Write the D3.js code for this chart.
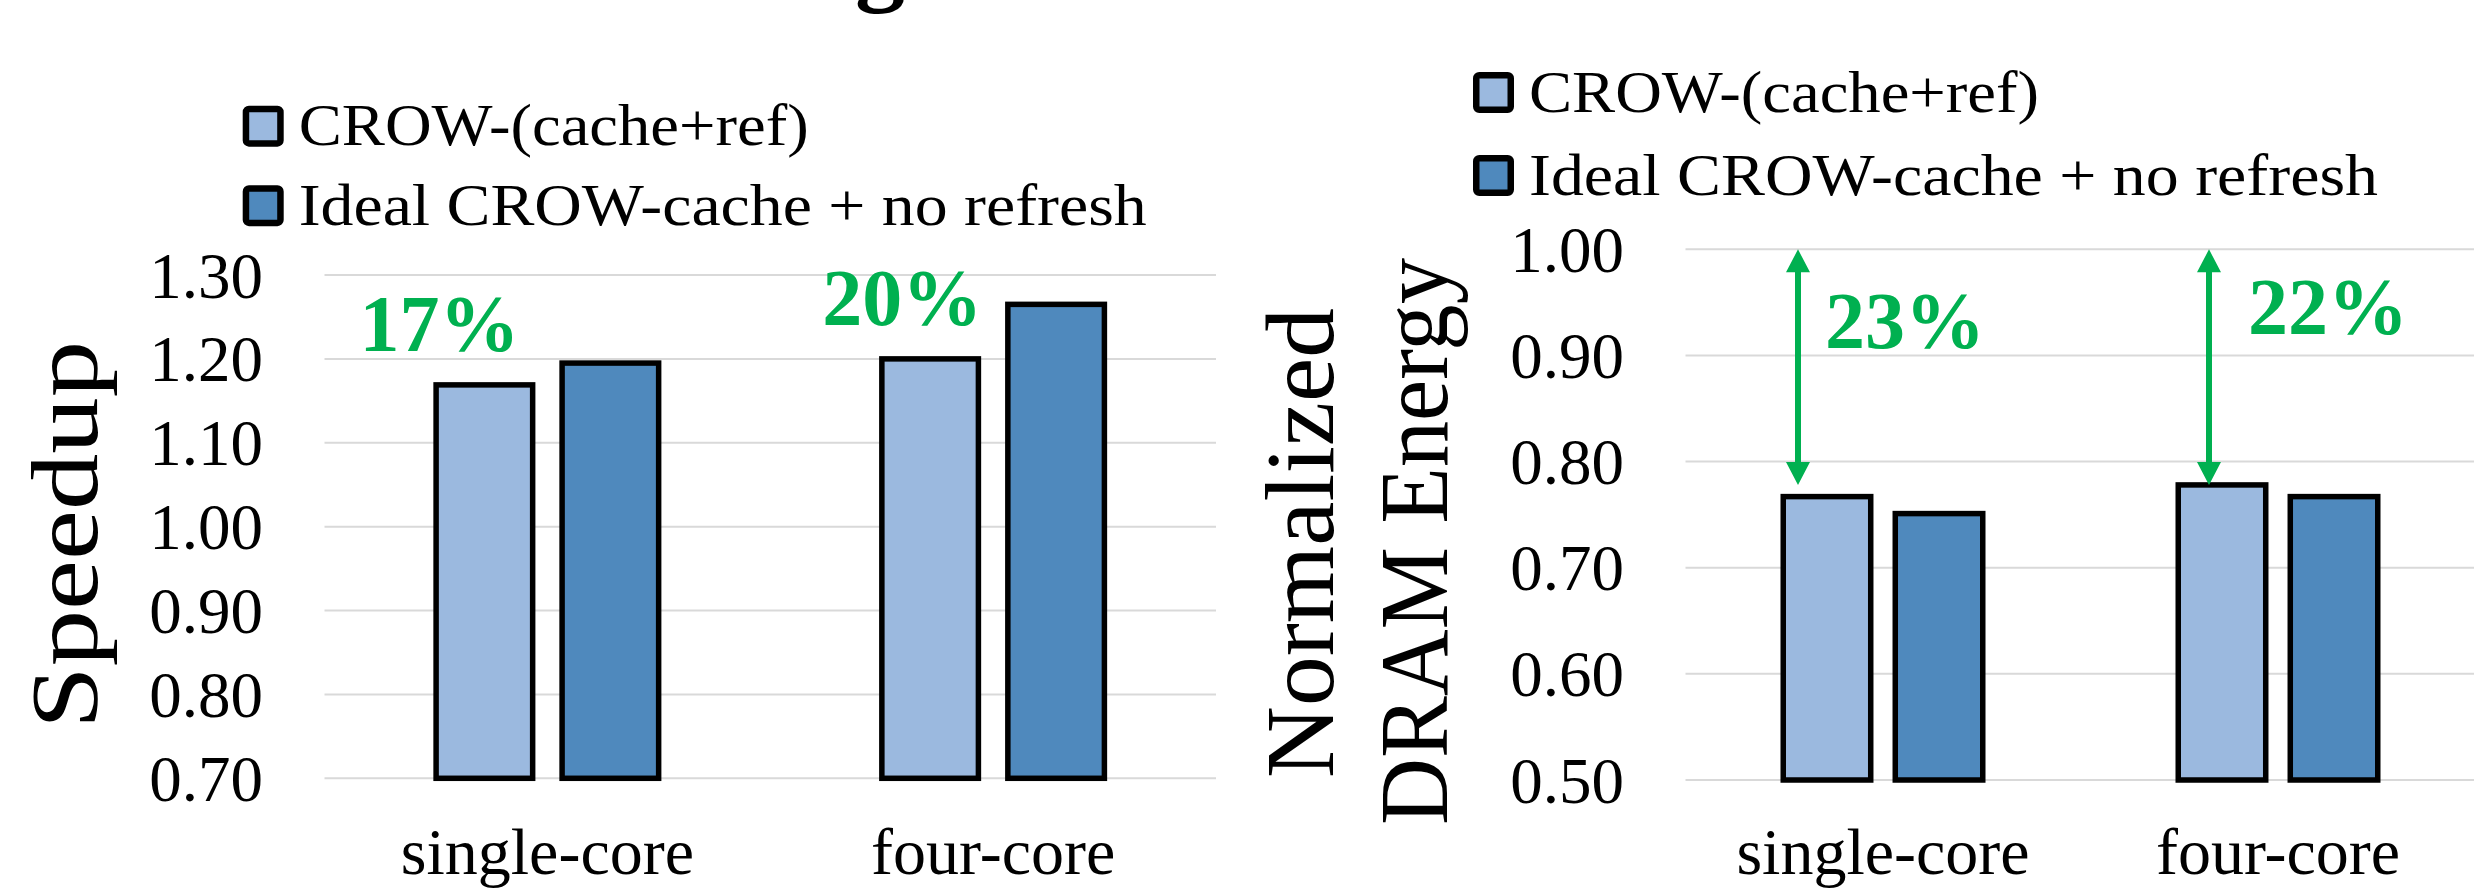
<!DOCTYPE html>
<html>
<head>
<meta charset="utf-8">
<script src="https://cdn.jsdelivr.net/npm/d3@7"></script>
<style>
  html, body { margin: 0; padding: 0; background: #ffffff; }
  svg { display: block; }
</style>
</head>
<body>
<svg id="chart" width="2474" height="888"></svg>
<script>
// ---- data ----
const categories = ["single-core", "four-core"];
const seriesNames = ["CROW-(cache+ref)", "Ideal CROW-cache + no refresh"];

const speedupCrow  = [1.169, 1.200];
const speedupIdeal = [1.195, 1.265];
const speedupTicks = [0.70, 0.80, 0.90, 1.00, 1.10, 1.20, 1.30];

const energyCrow  = [0.767, 0.778];
const energyIdeal = [0.751, 0.767];
const energyTicks = [0.50, 0.60, 0.70, 0.80, 0.90, 1.00];
const energyBaseline = 1.00;          // arrows start at the un-optimised level
const energyArrowEnd = [0.778, 0.778]; // where each arrow's lower head points

// ---- styling ----
const SERIF = "'Liberation Serif', 'Times New Roman', serif";
const colors = ["#9BB9DF", "#4F89BD"];
const green = "#00B050";
const gridColor = "#D9D9D9";
const barStroke = 5.5;

const svg = d3.select("#chart");
const fmtTick = d3.format(".2f");
const fmtPct = d3.format(".0%");

// Partially visible heading above the panels
svg.append("text")
  .attr("x", 880).attr("y", -7)
  .attr("text-anchor", "middle")
  .style("font-family", SERIF).style("font-weight", "bold")
  .style("font-size", "100px")
  .text("g");

function legend(x, y0, rowGap, textLen) {
  const g = svg.append("g");
  seriesNames.forEach((name, i) => {
    const y = y0 + i * rowGap;
    g.append("rect")
      .attr("x", x + 3.25).attr("y", y + 3.25)
      .attr("width", 34.5).attr("height", 34.5)
      .attr("rx", 3)
      .attr("fill", colors[i])
      .attr("stroke", "#000").attr("stroke-width", 6.5);
    g.append("text")
      .attr("x", x + 56).attr("y", y + 39.5)
      .style("font-family", SERIF).style("font-size", "60px")
      .attr("textLength", textLen[i]).attr("lengthAdjust", "spacingAndGlyphs")
      .text(name);
  });
}

function panel(cfg) {
  const g = svg.append("g");
  const x0 = d3.scaleBand().domain(categories).range(cfg.xRange).padding(0);
  const x1 = d3.scaleBand().domain(seriesNames)
    .range([0, x0.bandwidth()])
    .paddingInner(cfg.padInner).paddingOuter(cfg.padOuter);
  const y = d3.scaleLinear().domain(cfg.domain).range(cfg.yRange);

  // gridlines
  g.append("g").selectAll("line").data(cfg.ticks).join("line")
    .attr("x1", cfg.xRange[0]).attr("x2", cfg.xRange[1])
    .attr("y1", d => y(d)).attr("y2", d => y(d))
    .attr("stroke", gridColor).attr("stroke-width", 2);

  // y axis labels
  const axis = d3.axisLeft(y).tickValues(cfg.ticks).tickFormat(fmtTick).tickSize(0).tickPadding(0);
  const ax = g.append("g").attr("transform", `translate(${cfg.tickX},0)`).call(axis);
  ax.select(".domain").remove();
  ax.selectAll("text")
    .style("font-family", SERIF).style("font-size", "65px")
    .attr("fill", "#000").attr("x", 0).attr("dy", "0.34em");

  // bars
  const rows = categories.map((c, i) => ({
    cat: c,
    vals: cfg.series.map((s, j) => ({ name: seriesNames[j], v: s[i], j }))
  }));
  const groups = g.selectAll(".grp").data(rows).join("g")
    .attr("transform", d => `translate(${x0(d.cat)},0)`);
  groups.selectAll("rect").data(d => d.vals).join("rect")
    .attr("x", d => x1(d.name) + barStroke / 2)
    .attr("width", x1.bandwidth() - barStroke)
    .attr("y", d => y(d.v))
    .attr("height", d => y(cfg.domain[0]) - y(d.v))
    .attr("fill", d => colors[d.j])
    .attr("stroke", "#000").attr("stroke-width", barStroke);

  // category labels
  g.selectAll(".cat").data(categories).join("text")
    .attr("x", d => x0(d) + x0.bandwidth() / 2)
    .attr("y", cfg.catY)
    .attr("text-anchor", "middle")
    .style("font-family", SERIF).style("font-size", "66px")
    .text(d => d);

  return { g, x0, x1, y };
}

// ---- left panel: speedup ----
const left = panel({
  xRange: [324.5, 1216], yRange: [778.3, 275], domain: [0.70, 1.30],
  ticks: speedupTicks, tickX: 263, padInner: 0.19, padOuter: 0.864,
  series: [speedupCrow, speedupIdeal], catY: 874
});
{
  const dx = [-45, -28];
  left.g.selectAll(".gain").data(speedupCrow).join("text")
    .attr("x", (d, i) => left.x0(categories[i]) + left.x1(seriesNames[0]) + left.x1.bandwidth() / 2 + dx[i])
    .attr("y", d => left.y(d) - 34)
    .attr("text-anchor", "middle")
    .style("font-family", SERIF).style("font-weight", "bold").style("font-size", "80px")
    .attr("fill", green)
    .text(d => fmtPct(d - 1));
}
svg.append("text")
  .attr("transform", "translate(97,535) rotate(-90)")
  .attr("text-anchor", "middle")
  .style("font-family", SERIF).style("font-size", "96px")
  .attr("textLength", 388).attr("lengthAdjust", "spacingAndGlyphs")
  .text("Speedup");
legend(242.7, 105.7, 79.5, [510, 848]);

// ---- right panel: DRAM energy ----
const right = panel({
  xRange: [1685.5, 2475.5], yRange: [780, 249.3], domain: [0.50, 1.00],
  ticks: energyTicks, tickX: 1624, padInner: 0.17, padOuter: 0.848,
  series: [energyCrow, energyIdeal], catY: 874
});
{
  const arrowDx = [-85, -69];   // arrow position relative to group centre
  const labelDx = [27, 39];     // label start relative to arrow
  const labelDy = [-137, -151]; // label baseline relative to arrow tip
  const head = 23, halfW = 12;
  categories.forEach((c, i) => {
    const ax = right.x0(c) + right.x0.bandwidth() / 2 + arrowDx[i];
    const yTop = right.y(energyBaseline), yBot = right.y(energyArrowEnd[i]);
    right.g.append("line")
      .attr("x1", ax).attr("x2", ax)
      .attr("y1", yTop + head - 2).attr("y2", yBot - head + 2)
      .attr("stroke", green).attr("stroke-width", 6);
    const p = d3.path();
    p.moveTo(ax, yTop); p.lineTo(ax + halfW, yTop + head); p.lineTo(ax - halfW, yTop + head); p.closePath();
    p.moveTo(ax, yBot); p.lineTo(ax + halfW, yBot - head); p.lineTo(ax - halfW, yBot - head); p.closePath();
    right.g.append("path").attr("d", p.toString()).attr("fill", green);
    right.g.append("text")
      .attr("x", ax + labelDx[i]).attr("y", yBot + labelDy[i])
      .style("font-family", SERIF).style("font-weight", "bold").style("font-size", "80px")
      .attr("fill", green)
      .text(fmtPct(energyBaseline - energyCrow[i]));
  });
}
svg.append("text")
  .attr("transform", "translate(1333,543) rotate(-90)")
  .attr("text-anchor", "middle")
  .style("font-family", SERIF).style("font-size", "98px")
  .attr("textLength", 470).attr("lengthAdjust", "spacingAndGlyphs")
  .text("Normalized");
svg.append("text")
  .attr("transform", "translate(1447,541.5) rotate(-90)")
  .attr("text-anchor", "middle")
  .style("font-family", SERIF).style("font-size", "98px")
  .attr("textLength", 567).attr("lengthAdjust", "spacingAndGlyphs")
  .text("DRAM Energy");
legend(1473, 72, 83, [510, 849]);
</script>
</body>
</html>
